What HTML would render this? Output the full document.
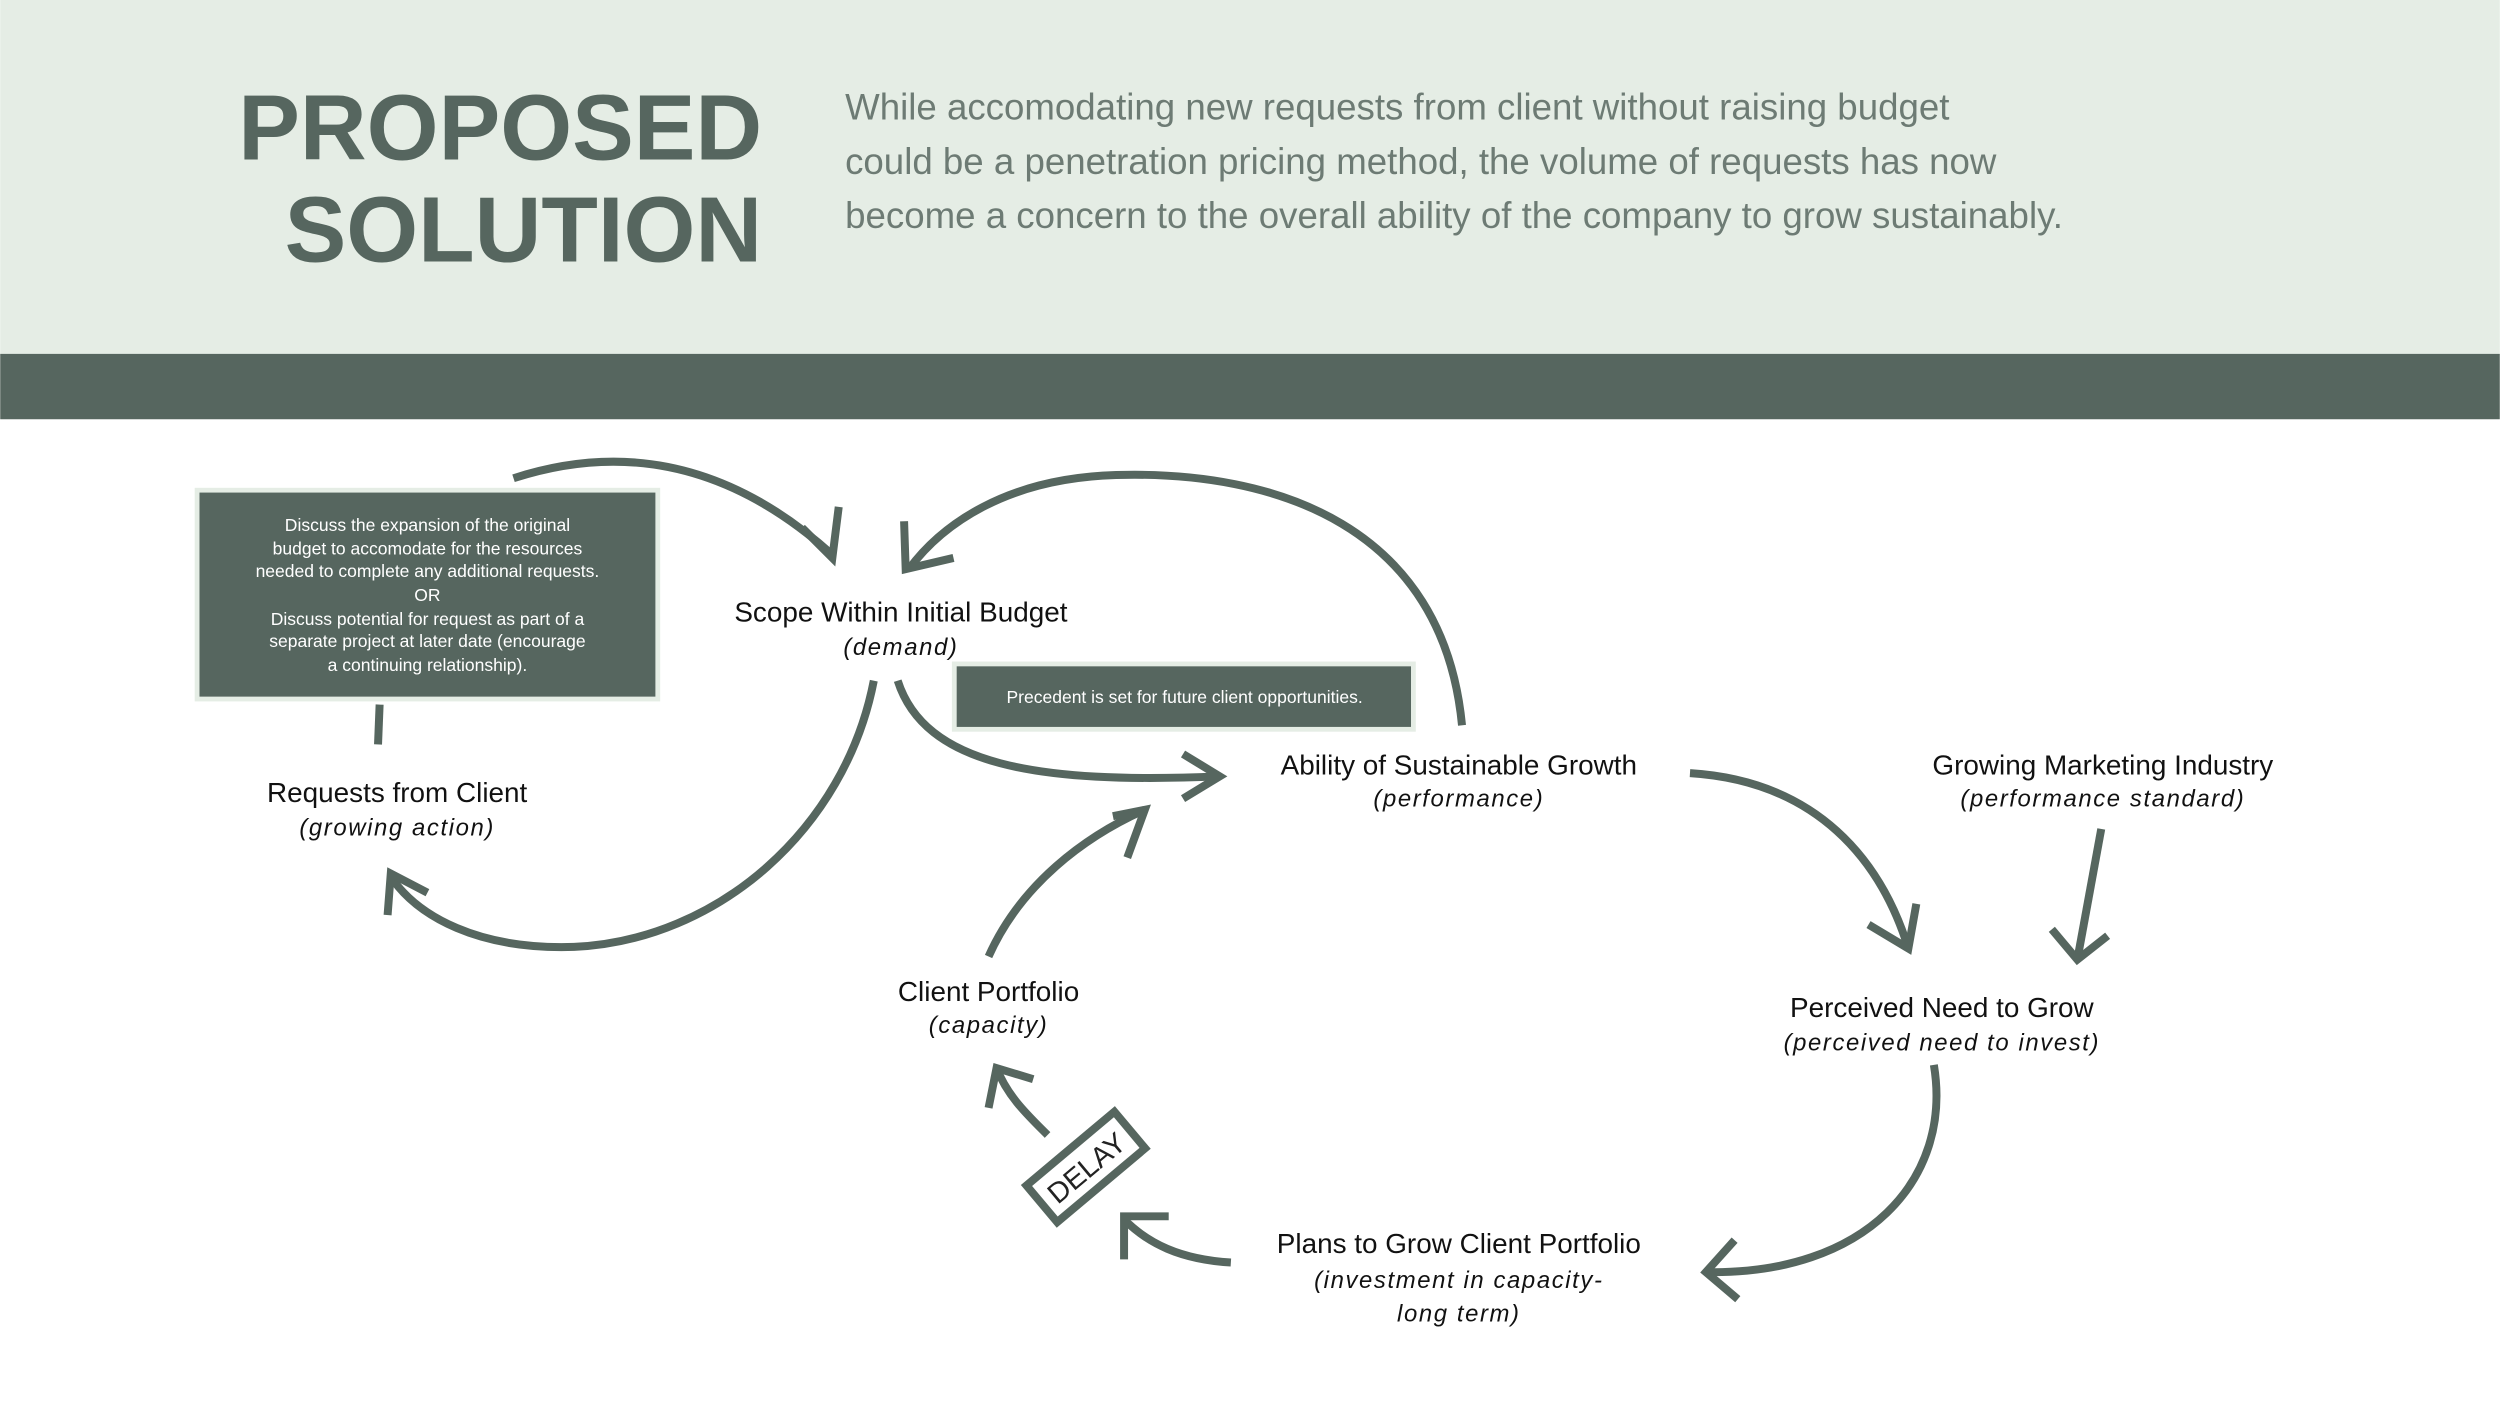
<!DOCTYPE html>
<html><head><meta charset="utf-8"><style>
html,body{margin:0;padding:0;background:#fff}
svg{display:block}
text{font-family:"Liberation Sans",sans-serif}
</style></head><body>
<svg width="2500" height="1406" viewBox="0 0 1568 882" xmlns="http://www.w3.org/2000/svg">
<rect x="0" y="0" width="1568" height="223" fill="#e5ede5"/>
<rect x="0" y="222" width="1568" height="41" fill="#56665f"/>
<g font-weight="bold" fill="#56665f" font-size="58" text-anchor="end">
<text x="478" y="100">PROPOSED</text>
<text x="478" y="164">SOLUTION</text>
</g>
<g fill="#6d7b74" font-size="23">
<text x="530" y="75">While accomodating new requests from client without raising budget</text>
<text x="530" y="109">could be a penetration pricing method, the volume of requests has now</text>
<text x="530" y="143">become a concern to the overall ability of the company to grow sustainably.</text>
</g>
<g fill="none" stroke="#56665f" stroke-width="5" stroke-linecap="butt" stroke-linejoin="miter">
<path d="M322,300 Q430,265 522,348"/>
<path d="M503,331 L522,350 L526,318"/>
<path d="M917,455 C905,330 800,295 700,298 C630,300 590,330 570,357"/>
<path d="M567,327 L568,357 L598,350"/>
<path d="M238,442 L237,467"/>
<path d="M548,427 C530,520 450,590 360,594 C300,596 262,575 245,550"/>
<path d="M243,574 L245,548 L268,560"/>
<path d="M563,427 C580,480 650,492 765,487"/>
<path d="M742,473 L765,487 L742,501"/>
<path d="M620,600 C640,555 680,525 718,508"/>
<path d="M698,512 L718,508 L707,538"/>
<path d="M1060,485 C1140,490 1180,540 1197,595"/>
<path d="M1172,580 L1197,595 L1202,567"/>
<path d="M1318,520 L1303,602"/>
<path d="M1287,583 L1303,602 L1322,587"/>
<path d="M1213,668 C1225,740 1170,800 1070,798"/>
<path d="M1088,778 L1070,798 L1090,815"/>
<path d="M772,792 C740,790 720,780 705,765"/>
<path d="M705,790 L705,763 L733,763"/>
<path d="M657,712 C645,700 632,688 625,670"/>
<path d="M620,695 L625,670 L648,677"/>
</g>
<rect x="122" y="306" width="292" height="134" fill="#e5ede5"/>
<rect x="125" y="309" width="286" height="128" fill="#56665f"/>
<g fill="#fff" font-size="11" text-anchor="middle">
<text x="268" y="333">Discuss the expansion of the original</text>
<text x="268" y="348">budget to accomodate for the resources</text>
<text x="268" y="362">needed to complete any additional requests.</text>
<text x="268" y="377">OR</text>
<text x="268" y="392">Discuss potential for request as part of a</text>
<text x="268" y="406">separate project at later date (encourage</text>
<text x="268" y="421">a continuing relationship).</text>
</g>
<rect x="597" y="415" width="291" height="44" fill="#e5ede5"/>
<rect x="600" y="418" width="285" height="38" fill="#56665f"/>
<text x="743" y="441" fill="#fff" font-size="11" text-anchor="middle">Precedent is set for future client opportunities.</text>
<g transform="translate(681,732) rotate(-40)">
<rect x="-36" y="-15" width="72" height="30" fill="#fff" stroke="#56665f" stroke-width="5"/>
<text x="0" y="7" font-size="18" text-anchor="middle" fill="#222">DELAY</text>
</g>
<g fill="#111" font-size="17.5" text-anchor="middle">
<text x="565" y="390">Scope Within Initial Budget</text>
<text x="249" y="503">Requests from Client</text>
<text x="915" y="486">Ability of Sustainable Growth</text>
<text x="1319" y="486">Growing Marketing Industry</text>
<text x="620" y="628">Client Portfolio</text>
<text x="1218" y="638">Perceived Need to Grow</text>
<text x="915" y="786">Plans to Grow Client Portfolio</text>
</g>
<g fill="#111" font-size="15" font-style="italic" text-anchor="middle" style="font-family:'Liberation Serif',serif" letter-spacing="1">
<text x="565" y="411">(demand)</text>
<text x="249" y="524">(growing action)</text>
<text x="915" y="506">(performance)</text>
<text x="1319" y="506">(performance standard)</text>
<text x="620" y="648">(capacity)</text>
<text x="1218" y="659">(perceived need to invest)</text>
<text x="915" y="808">(investment in capacity-</text>
<text x="915" y="829">long term)</text>
</g>
</svg>
</body></html>
